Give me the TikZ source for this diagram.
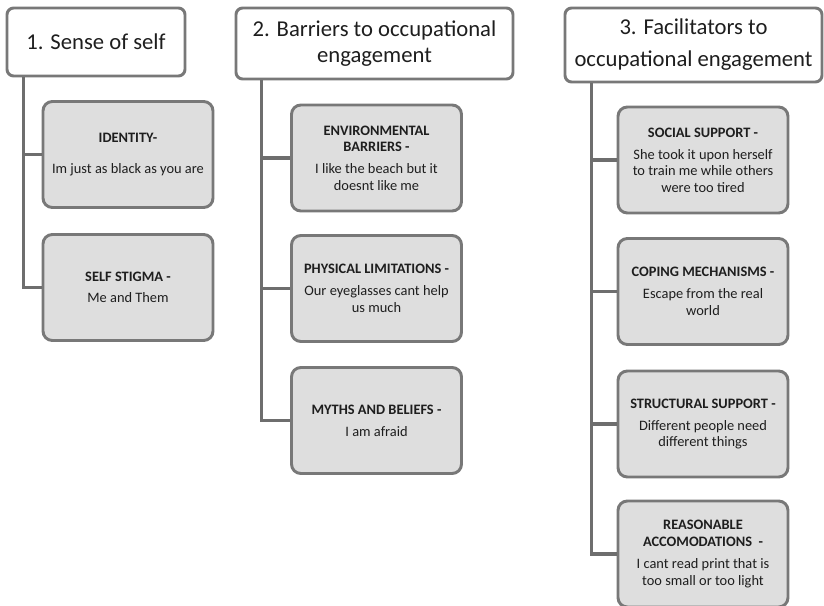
\documentclass[tikz,border=0pt]{standalone}
\usepackage{fontspec}
\setmainfont{Carlito}
\usetikzlibrary{positioning}

\definecolor{linegray}{RGB}{110,110,110}
\definecolor{edgegray}{RGB}{120,120,120}
\definecolor{boxgray}{RGB}{222,222,222}
\definecolor{inkgray}{RGB}{30,30,30}

\tikzset{
	head/.style = {draw = edgegray, line width = 2.2pt, rounded corners = 5pt, fill = white,
		align = center, font = \fontsize{17}{19}\selectfont, inner sep = 2pt, text = inkgray},
	theme/.style = {draw = edgegray, line width = 2.2pt, rounded corners = 7pt, fill = boxgray,
		align = center, minimum width = 127.5pt, minimum height = 79.5pt, inner sep = 2pt,
		font = \fontsize{10.8}{12.5}\selectfont, text = inkgray},
	link/.style = {draw = linegray, line width = 2.3pt}
}

\begin{document}
\begin{tikzpicture}[x = 0.75pt, y = -0.75pt]
	\useasboundingbox (0,0) rectangle (824,606);

	% column 1
	\node [head, minimum width = 133.5pt, minimum height = 51pt] (self) at (96,42) {1. Sense of self};
	\node [theme] (identity) at (128,154.5) {\textbf{IDENTITY-}\\[11pt] Im just as black as you are};
	\node [theme] (stigma) at (128,287.5) {\textbf{SELF STIGMA -}\\[3pt] Me and Them};

	% column 2
	\node [head, minimum width = 207.75pt, minimum height = 53.25pt] (barriers) at (374.5,43.5)
		{2. Barriers to occupational\\engagement};
	\node [theme] (environ) at (376.5,158) {\textbf{ENVIRONMENTAL}\\\textbf{BARRIERS -}\\[4pt] I like the beach but it\\doesnt like me};
	\node [theme] (physical) at (376.5,288.5) {\textbf{PHYSICAL LIMITATIONS -}\\[4pt] Our eyeglasses cant help\\us much};
	\node [theme] (myths) at (376.5,420.5) {\textbf{MYTHS AND BELIEFS -}\\[4pt] I am afraid};

	% column 3
	\node [head, minimum width = 192.75pt, minimum height = 55.5pt] (facilit) at (693.5,45)
		{3. Facilitators to\\[5pt]occupational engagement};
	\node [theme] (social) at (703,160) {\textbf{SOCIAL SUPPORT -}\\[4pt] She took it upon herself\\to train me while others\\were too tired};
	\node [theme] (coping) at (703,291.5) {\textbf{COPING MECHANISMS -}\\[4pt] Escape from the real\\world};
	\node [theme] (struct) at (703,424) {\textbf{STRUCTURAL SUPPORT -}\\[4pt] Different people need\\different things};
	\node [theme] (reason) at (703,554) {\textbf{REASONABLE}\\\textbf{ACCOMODATIONS~~-}\\[4pt] I cant read print that is\\too small or too light};

	% trunks
	\path (self.south west) ++(18,0) coordinate (t1);
	\path (barriers.south west) ++(27,0) coordinate (t2);
	\path (facilit.south west) ++(28,0) coordinate (t3);

	\draw [link] (t1) |- (identity.west);
	\draw [link] (t1) |- (stigma.west);
	\draw [link] (t2) |- (environ.west);
	\draw [link] (t2) |- (physical.west);
	\draw [link] (t2) |- (myths.west);
	\draw [link] (t3) |- (social.west);
	\draw [link] (t3) |- (coping.west);
	\draw [link] (t3) |- (struct.west);
	\draw [link] (t3) |- (reason.west);
\end{tikzpicture}
\end{document}
